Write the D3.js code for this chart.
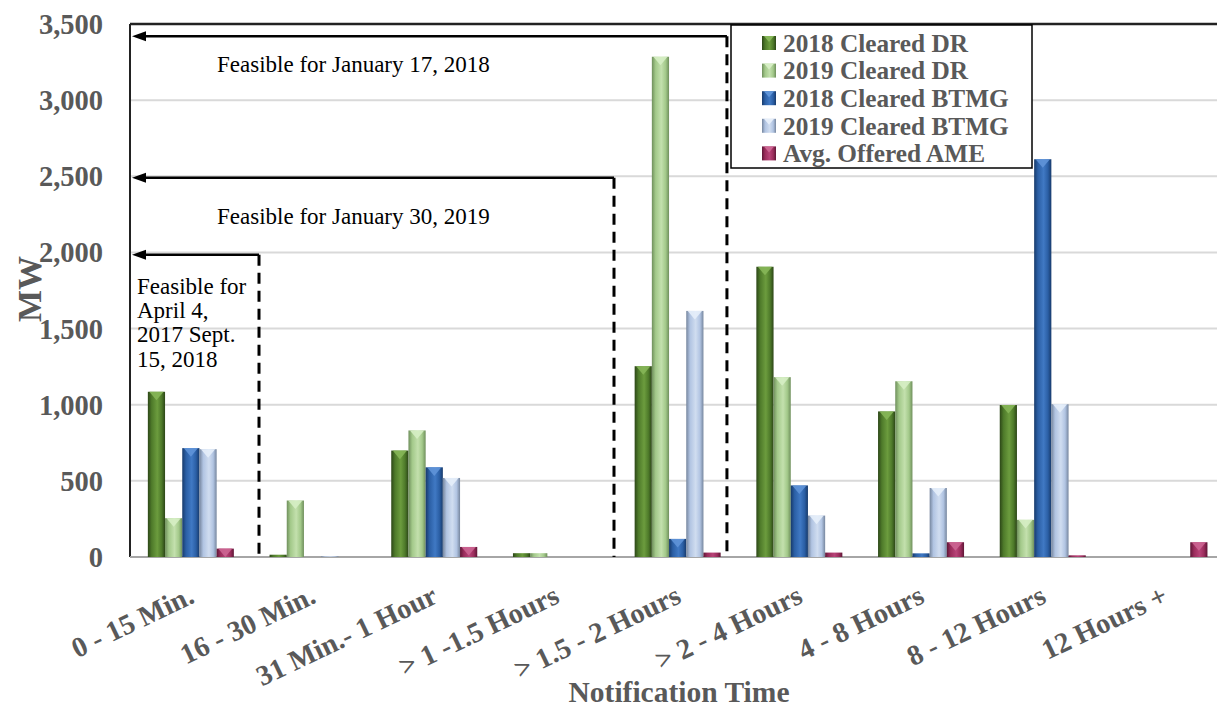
<!DOCTYPE html>
<html><head><meta charset="utf-8">
<script src="https://cdn.jsdelivr.net/npm/d3@7"></script>
<style>body{margin:0;background:#fff}svg{display:block}</style>
</head><body><svg id="c" width="1217" height="708"></svg>
<script>
const categories = ["0 - 15 Min.","16 - 30 Min.","31 Min.- 1 Hour","> 1 -1.5 Hours","> 1.5 - 2 Hours","> 2 - 4 Hours","4 - 8 Hours","8 - 12 Hours","12 Hours +"];
const seriesNames = ["2018 Cleared DR","2019 Cleared DR","2018 Cleared BTMG","2019 Cleared BTMG","Avg. Offered AME"];
const dr2018   = [1085, 15, 699, 25, 1253, 1906, 956, 998, 0];
const dr2019   = [255, 371, 831, 25, 3285, 1181, 1154, 244, 0];
const btmg2018 = [715, 0, 589, 0, 119, 470, 24, 2612, 0];
const btmg2019 = [708, 5, 519, 0, 1616, 272, 453, 1003, 0];
const ameAvg   = [55, 0, 66, 0, 29, 29, 97, 11, 97];
const yTicks = [0,500,1000,1500,2000,2500,3000,3500];
// annotations: category boundary index, MW level, text lines
const annotations = [
  {pos: 4.905, level: 3420, lines: ["Feasible for January 17, 2018"]},
  {pos: 3.977, level: 2490, lines: ["Feasible for January 30, 2019"]},
  {pos: 1.06,  level: 1985, lines: ["Feasible for","April 4,","2017 Sept.","15, 2018"]}
];
const annTextDy = [36, 46, 39];

const seriesData = [dr2018, dr2019, btmg2018, btmg2019, ameAvg];
const palette = [
  {dark:"#2c4617", base:"#4e7a2a", light:"#6c9c3e", tri:"#86b658"},
  {dark:"#6f8f5c", base:"#a3c98a", light:"#c3e0ad", tri:"#d6eec4"},
  {dark:"#173a6b", base:"#2b5fa5", light:"#4079c4", tri:"#5f94d8"},
  {dark:"#76869e", base:"#b1c4e2", light:"#d0ddf0", tri:"#e6eef9"},
  {dark:"#5e1636", base:"#9b2d5c", light:"#b84478", tri:"#cc6592"}
];

const svg = d3.select("#c");
const pLeft = 130, step = 121.7, pTop = 24, pBottom = 557;
const x = d3.scaleBand().domain(categories).range([pLeft, pLeft + step*categories.length]).padding(0);
const barW = 17.2;
const xs = d3.scaleBand().domain(seriesNames).range([0, barW*seriesNames.length]);
const y = d3.scaleLinear().domain([0,3500]).range([pBottom, pTop]);
const fontSerif = "'Liberation Serif','Times New Roman',serif";

const defs = svg.append("defs");
palette.forEach((p,i)=>{
  const g = defs.append("linearGradient").attr("id","g"+i).attr("x1","0").attr("x2","1").attr("y1","0").attr("y2","0");
  g.append("stop").attr("offset","0%").attr("stop-color",p.dark);
  g.append("stop").attr("offset","22%").attr("stop-color",p.base);
  g.append("stop").attr("offset","55%").attr("stop-color",p.light);
  g.append("stop").attr("offset","80%").attr("stop-color",p.base);
  g.append("stop").attr("offset","100%").attr("stop-color",p.dark);
});

// gridlines
svg.append("g").selectAll("line").data(yTicks.filter(d=>d>0 && d<3500)).join("line")
  .attr("x1",pLeft).attr("x2",1217).attr("y1",d=>y(d)).attr("y2",d=>y(d))
  .attr("stroke","#d9d9d9").attr("stroke-width",2);

// top border and axes
svg.append("line").attr("x1",pLeft).attr("x2",1217).attr("y1",pTop).attr("y2",pTop).attr("stroke","#222").attr("stroke-width",2.5);
svg.append("line").attr("x1",pLeft).attr("x2",pLeft).attr("y1",pTop).attr("y2",pBottom).attr("stroke","#222").attr("stroke-width",2);
svg.append("line").attr("x1",pLeft).attr("x2",1217).attr("y1",pBottom).attr("y2",pBottom).attr("stroke","#a6a6a6").attr("stroke-width",2);

// y tick labels
svg.append("g").selectAll("text").data(yTicks).join("text")
  .attr("x",103).attr("y",d=>y(d)).attr("dy","0.35em").attr("text-anchor","end")
  .attr("font-family",fontSerif).attr("font-weight","bold").attr("font-size",28.5).attr("fill","#595959")
  .text(d=>d3.format(",")(d));

// bars
const gx0 = c => x(c) + (x.bandwidth() - barW*seriesNames.length)/2;
seriesData.forEach((vals,si)=>{
  const g = svg.append("g");
  const data = categories.map((c,i)=>({c, v: vals[i]})).filter(d=>d.v>0);
  g.selectAll("rect").data(data).join("rect")
    .attr("x",d=>gx0(d.c)+xs(seriesNames[si])).attr("width",xs.bandwidth())
    .attr("y",d=>y(d.v)).attr("height",d=>pBottom - y(d.v))
    .attr("fill","url(#g"+si+")");
  g.selectAll("path").data(data.filter(d=>pBottom - y(d.v) > 6)).join("path")
    .attr("d",d=>{
      const x0 = gx0(d.c)+xs(seriesNames[si]), w = xs.bandwidth(), y0 = y(d.v);
      const h = Math.min(w*0.5, pBottom - y0);
      return `M${x0+1.5},${y0}L${x0+w-1.5},${y0}L${x0+w/2},${y0+h}Z`;
    })
    .attr("fill",palette[si].tri).attr("opacity",0.9);
});

// x labels
svg.append("g").selectAll("text").data(categories).join("text")
  .attr("transform",c=>`translate(${x(c)+x.bandwidth()/2+5},${602}) rotate(-25.5)`)
  .attr("text-anchor","end")
  .attr("font-family",fontSerif).attr("font-weight","bold").attr("font-size",28.5).attr("fill","#595959")
  .text(c=>c);

// axis titles
svg.append("text").attr("x",679).attr("y",702).attr("text-anchor","middle")
  .attr("font-family",fontSerif).attr("font-weight","bold").attr("font-size",29.5).attr("fill","#595959")
  .text("Notification Time");
svg.append("text").attr("transform","translate(41,289) rotate(-90)").attr("text-anchor","middle")
  .attr("font-family",fontSerif).attr("font-weight","bold").attr("font-size",34).attr("fill","#595959")
  .text("MW");

// annotations
const ag = svg.append("g");
annotations.forEach((a,i)=>{
  const ax = pLeft + a.pos*step, ay = y(a.level);
  ag.append("line").attr("x1",ax).attr("x2",ax).attr("y1",ay).attr("y2",pBottom)
    .attr("stroke","#000").attr("stroke-width",3).attr("stroke-dasharray","11,7");
  ag.append("line").attr("x1",ax).attr("x2",pLeft+12).attr("y1",ay).attr("y2",ay)
    .attr("stroke","#000").attr("stroke-width",2.5);
  ag.append("path").attr("d",`M${pLeft+2},${ay}L${pLeft+16},${ay-5}L${pLeft+16},${ay+5}Z`).attr("fill","#000");
  const t = ag.append("text").attr("font-family",fontSerif).attr("font-size",23).attr("fill","#000");
  if (a.lines.length===1){
    t.attr("x",pLeft+87).attr("y",ay+annTextDy[i]).text(a.lines[0]);
  } else {
    a.lines.forEach((l,k)=>t.append("tspan").attr("x",pLeft+7).attr("y",ay+annTextDy[i]+k*24.3).text(l));
  }
});

// legend
const lg = svg.append("g");
lg.append("rect").attr("x",731).attr("y",25).attr("width",301).attr("height",143)
  .attr("fill","#fff").attr("stroke","#000").attr("stroke-width",1.5);
seriesNames.forEach((s,i)=>{
  const ly = 43 + i*27.6;
  lg.append("rect").attr("x",762).attr("y",ly-7).attr("width",14).attr("height",14).attr("fill","url(#g"+i+")");
  lg.append("path").attr("d",`M${764},${ly-7}L${774},${ly-7}L${769},${ly-1}Z`).attr("fill",palette[i].tri);
  lg.append("text").attr("x",783).attr("y",ly).attr("dy","0.35em")
    .attr("font-family",fontSerif).attr("font-weight","bold").attr("font-size",25.3).attr("fill","#595959").text(s);
});
</script></body></html>
